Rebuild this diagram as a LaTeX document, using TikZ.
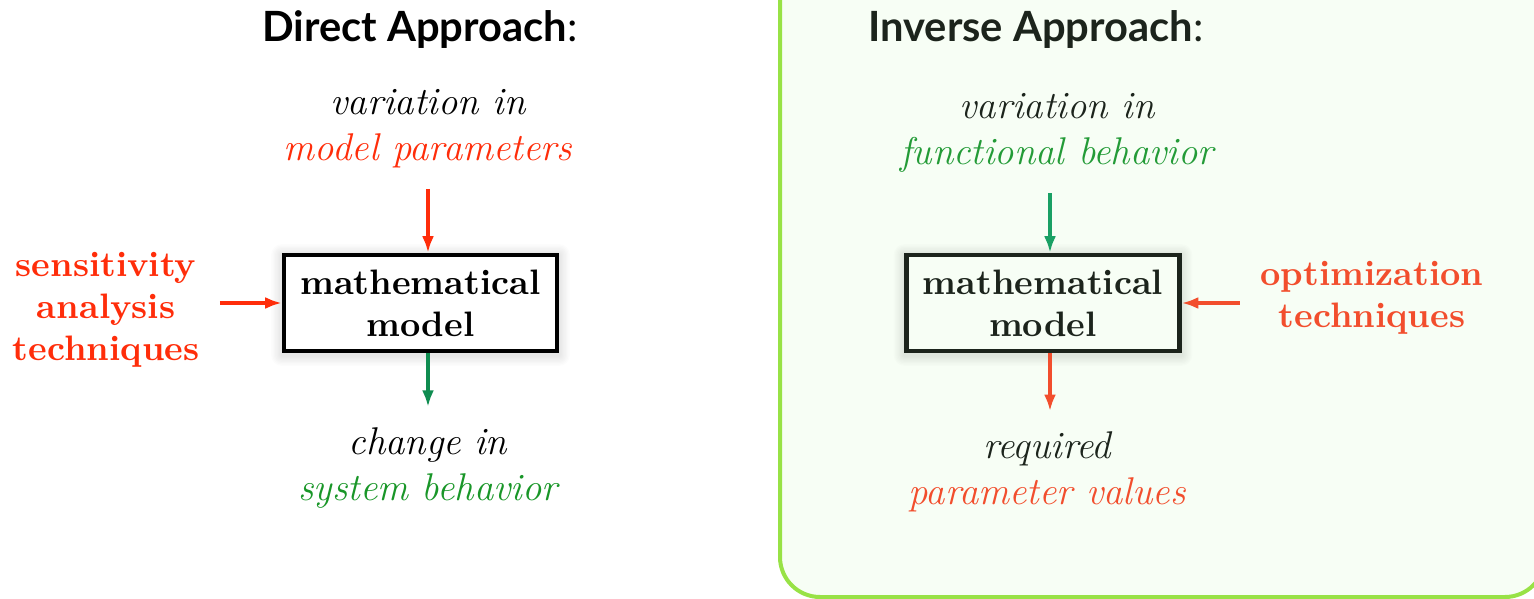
\documentclass[tikz,border=0pt]{standalone}
\usepackage{fontspec}
\newfontfamily\headfont{Lato}
\usetikzlibrary{arrows.meta}

\definecolor{hot}{RGB}{255,45,10}
\definecolor{arrgreen}{RGB}{15,140,80}
\definecolor{txtgreen}{RGB}{25,150,40}
\definecolor{panelfill}{RGB}{247,254,245}
\definecolor{panelline}{RGB}{152,226,70}
\definecolor{ink}{RGB}{28,36,28}
\definecolor{softhot}{RGB}{242,78,45}
\definecolor{softgreen}{RGB}{35,155,55}
\definecolor{softarr}{RGB}{25,160,100}

\pgfdeclarelayer{panel}
\pgfdeclarelayer{shade}
\pgfsetlayers{panel,shade,main}

% soft drop shadow behind a named box, built from faint stacked fills
\newcommand\boxshade[1]{%
  \begin{pgfonlayer}{shade}
  \foreach \k in {1,...,8}{%
    \fill[black,opacity=0.011,rounded corners=\k*0.4pt]
      ([shift={(-\k*0.4pt,-\k*0.4pt-0.6pt)}]#1.south west) rectangle
      ([shift={(\k*0.4pt,\k*0.4pt-0.6pt)}]#1.north east);
  }
  \end{pgfonlayer}}

\begin{document}
\begin{tikzpicture}[x=0.3pt,y=-0.3pt,
  head/.style={font=\headfont\fontsize{12.5}{14}\selectfont},
  lbl/.style={align=center,inner sep=0pt,font=\fontsize{11.6}{13.8}\selectfont\itshape},
  side/.style={align=center,inner sep=0pt,font=\fontsize{10.6}{12.6}\selectfont\bfseries},
  model/.style={draw,line width=1.3pt,minimum width=81.9pt,minimum height=28.8pt,
    inner sep=0pt,align=center,font=\fontsize{10.6}{12.6}\selectfont\bfseries},
  conn/.style={line width=1.2pt,-{Latex[length=5pt,width=3.6pt]}}]
\useasboundingbox (0,0) rectangle (1534,599);

% inverse approach panel, running off the top and right edges
\begin{pgfonlayer}{panel}
\begin{scope}
  \clip (0,0) rectangle (1534,599);
  \draw[fill=panelfill,draw=panelline,line width=1.2pt,rounded corners=12pt]
    (780,-80) rectangle (1545,597);
\end{scope}
\end{pgfonlayer}

% ---------- direct approach ----------
\node[head] (h1) at (420,30) {\textbf{Direct Approach}:};
\node[lbl] (t1) at (428,129) {variation in\\\textcolor{hot}{model parameters}};
\node[model,fill=white] (m1) at (420.5,303) {mathematical\\model};
\node[side,text=hot] (s1) at (106,310) {sensitivity\\analysis\\techniques};
\node[lbl] (b1) at (428,468) {change in\\\textcolor{txtgreen}{system behavior}};
\boxshade{m1}

\draw[conn,hot,shorten <=6pt] (t1.south) -- (t1.south |- m1.north);
\draw[conn,hot,shorten <=6pt] (s1.east |- m1.west) -- (m1.west);
\draw[conn,arrgreen,shorten >=6pt] (b1.north |- m1.south) -- (b1.north);

% ---------- inverse approach ----------
\node[head,text=ink] (h2) at (1036,30) {\textbf{Inverse Approach}:};
\node[lbl,text=ink] (t2) at (1057,133) {variation in\\\textcolor{softgreen}{functional behavior}};
\node[model,draw=ink,text=ink,fill=panelfill] (m2) at (1043,303) {mathematical\\model};
\node[side,text=softhot] (s2) at (1372,298) {optimization\\techniques};
\node[lbl,text=ink] (b2) at (1047,472) {required\\\textcolor{softhot}{parameter values}};
\boxshade{m2}

\coordinate (g2) at (1050,0);
\draw[conn,softarr,shorten <=6pt] (g2 |- t2.south) -- (g2 |- m2.north);
\draw[conn,softhot,shorten <=6pt] (s2.west |- m2.east) -- (m2.east);
\draw[conn,softhot,shorten >=6pt] (g2 |- m2.south) -- (g2 |- b2.north);
\end{tikzpicture}
\end{document}
